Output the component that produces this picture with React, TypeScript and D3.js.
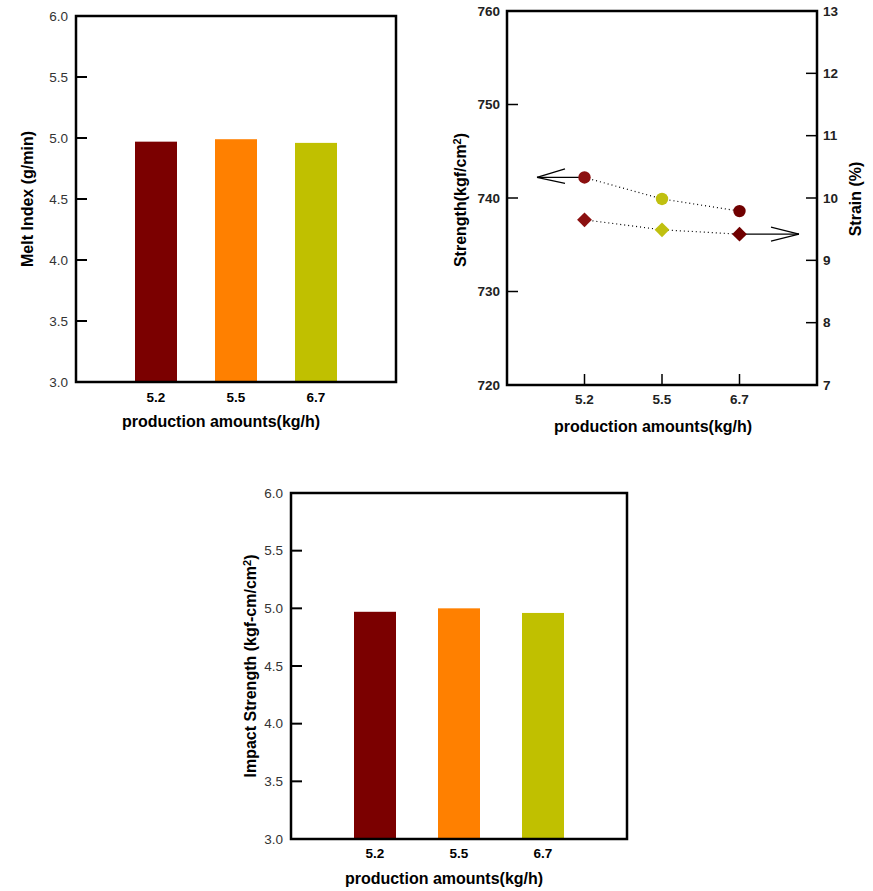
import React from "react";
import * as d3 from "d3";

const categories = ["5.2", "5.5", "6.7"];
const barColors = ["#7b0000", "#ff8000", "#c0c000"];
const meltIndex = [4.97, 4.99, 4.96];
const impactStrength = [4.97, 5.0, 4.96];
const strength = [742.2, 739.9, 738.6];
const strain = [9.65, 9.49, 9.42];
const markerColors = ["#8b1010", "#c0c010", "#700000"];
const barTicks = [3.0, 3.5, 4.0, 4.5, 5.0, 5.5, 6.0];
const strengthTicks = [720, 730, 740, 750, 760];
const strainTicks = [7, 8, 9, 10, 11, 12, 13];

const FONT = "'Liberation Sans', Arial, sans-serif";

type BarProps = {
  left: number; top: number; right: number; bottom: number;
  values: number[]; yLabel: React.ReactNode; xLabelY: number; yLabelX: number; tickY: number;
};

function BarChart({ left, top, right, bottom, values, yLabel, xLabelY, yLabelX, tickY }: BarProps) {
  const x = d3.scaleLinear().domain([0, 4]).range([left, right]);
  const y = d3.scaleLinear().domain([3, 6]).range([bottom, top]);
  const bw = 42;
  return (
    <g>
      {values.map((v, i) => (
        <rect key={i} x={x(i + 1) - bw / 2} y={y(v)} width={bw} height={y(3) - y(v)} fill={barColors[i]} />
      ))}
      {barTicks.map((t) => (
        <g key={t}>
          <line x1={left} x2={left + 11} y1={y(t)} y2={y(t)} stroke="#000" strokeWidth={2} />
          <text x={left - 8} y={y(t)} dy="0.35em" textAnchor="end" fontSize={13.5} fill="#333" fontFamily={FONT}>
            {t.toFixed(1)}
          </text>
        </g>
      ))}
      <rect x={left} y={top} width={right - left} height={bottom - top} fill="none" stroke="#000" strokeWidth={2.5} />
      {categories.map((c, i) => (
        <text key={c} x={x(i + 1)} y={tickY} dy="0.35em" textAnchor="middle" fontSize={13.5} fontWeight="bold" fontFamily={FONT}>
          {c}
        </text>
      ))}
      <text x={(left + right) / 2 - 15} y={xLabelY} dy="0.35em" textAnchor="middle" fontSize={16} fontWeight="bold" fontFamily={FONT}>
        production amounts(kg/h)
      </text>
      <text transform={`translate(${yLabelX},${(top + bottom) / 2}) rotate(-90)`} dy="0.35em" textAnchor="middle" fontSize={16} fontWeight="bold" fontFamily={FONT}>
        {yLabel}
      </text>
    </g>
  );
}

function DualChart() {
  const left = 507, top = 11, right = 817, bottom = 385;
  const x = d3.scaleLinear().domain([0, 4]).range([left, right]);
  const yL = d3.scaleLinear().domain([720, 760]).range([bottom, top]);
  const yR = d3.scaleLinear().domain([7, 13]).range([bottom, top]);
  const circlePath = d3.line<number>().x((_, i) => x(i + 1)).y((d) => yL(d));
  const diamondPath = d3.line<number>().x((_, i) => x(i + 1)).y((d) => yR(d));
  const diamond = d3.symbol().type(d3.symbolDiamond2).size(140)();
  const lax = x(1), lay = yL(strength[0]);
  const ltip = 537;
  const rax = x(3), ray = yR(strain[2]);
  const rtip = 799;
  return (
    <g fontFamily={FONT}>
      <path d={circlePath(strength) || ""} fill="none" stroke="#000" strokeWidth={1.2} strokeDasharray="1,3" />
      <path d={diamondPath(strain) || ""} fill="none" stroke="#000" strokeWidth={1.2} strokeDasharray="1,3" />
      <g stroke="#000" strokeWidth={1.2} fill="none">
        <line x1={lax} y1={lay} x2={ltip} y2={lay} />
        <line x1={ltip} y1={lay} x2={ltip + 28} y2={lay - 8.5} />
        <line x1={ltip} y1={lay} x2={ltip + 28} y2={lay + 6} />
        <line x1={rax} y1={ray} x2={rtip} y2={ray} />
        <line x1={rtip} y1={ray} x2={rtip - 28} y2={ray - 7} />
        <line x1={rtip} y1={ray} x2={rtip - 28} y2={ray + 7} />
      </g>
      {strength.map((v, i) => (
        <circle key={i} cx={x(i + 1)} cy={yL(v)} r={6.2} fill={markerColors[i]} />
      ))}
      {strain.map((v, i) => (
        <path key={i} d={diamond || ""} transform={`translate(${x(i + 1)},${yR(v)})`} fill={markerColors[i]} />
      ))}
      {strengthTicks.map((t) => (
        <g key={t}>
          <line x1={left} x2={left + 11} y1={yL(t)} y2={yL(t)} stroke="#000" strokeWidth={1.5} />
          <text x={left - 7} y={yL(t)} dy="0.35em" textAnchor="end" fontSize={13.5} fontWeight="bold" fill="#222">
            {t}
          </text>
        </g>
      ))}
      {strainTicks.map((t) => (
        <g key={t}>
          <line x1={right - 11} x2={right} y1={yR(t)} y2={yR(t)} stroke="#000" strokeWidth={1.5} />
          <text x={right + 6} y={yR(t)} dy="0.35em" textAnchor="start" fontSize={13.5} fontWeight="bold" fill="#222">
            {t}
          </text>
        </g>
      ))}
      {categories.map((c, i) => (
        <g key={c}>
          <line x1={x(i + 1)} x2={x(i + 1)} y1={bottom} y2={bottom - 11} stroke="#000" strokeWidth={1.5} />
          <text x={x(i + 1)} y={399} dy="0.35em" textAnchor="middle" fontSize={13.5} fontWeight="bold" fill="#222">
            {c}
          </text>
        </g>
      ))}
      <rect x={left} y={top} width={right - left} height={bottom - top} fill="none" stroke="#000" strokeWidth={2.5} />
      <text x={653} y={426} dy="0.35em" textAnchor="middle" fontSize={16} fontWeight="bold">
        production amounts(kg/h)
      </text>
      <text transform={`translate(460,200) rotate(-90)`} dy="0.35em" textAnchor="middle" fontSize={16} fontWeight="bold">
        Strength(kgf/cm<tspan dy="-5" fontSize={11}>2</tspan><tspan dy="5">)</tspan>
      </text>
      <text transform={`translate(855,199) rotate(-90)`} dy="0.35em" textAnchor="middle" fontSize={16} fontWeight="bold">
        Strain (%)
      </text>
    </g>
  );
}

export default function App() {
  return (
    <svg width={873} height={891} style={{ position: "absolute", left: 0, top: 0, background: "#fff" }}>
      <rect width={873} height={891} fill="#fff" />
      <BarChart left={76} top={16} right={396} bottom={382} values={meltIndex} yLabel="Melt Index (g/min)" xLabelY={421} yLabelX={27} tickY={397} />
      <DualChart />
      <BarChart
        left={291}
        top={493}
        right={627}
        bottom={839}
        values={impactStrength}
        yLabel={
          <>
            Impact Strength (kgf-cm/cm<tspan dy="-5" fontSize={11}>2</tspan>
            <tspan dy="5">)</tspan>
          </>
        }
        xLabelY={878}
        yLabelX={250}
        tickY={853}
      />
    </svg>
  );
}
